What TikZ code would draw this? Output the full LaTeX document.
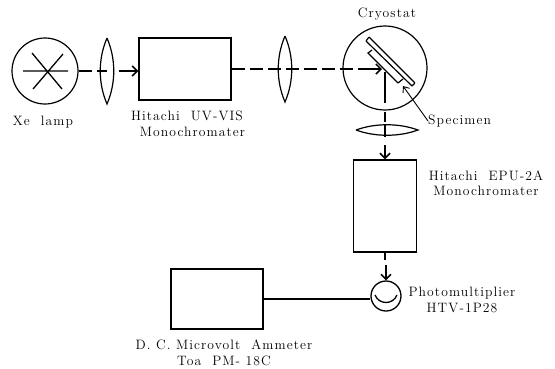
\documentclass[tikz,border=0pt]{standalone}
\usepackage{fontspec}
\setmainfont[LetterSpace=8]{Latin Modern Roman}
\usetikzlibrary{arrows.meta}
\tikzset{
  unitbox/.style={draw, line width=1.4pt, rectangle, inner sep=0pt},
  roundbox/.style={draw, line width=1.2pt, circle, inner sep=0pt},
  label/.style={inner sep=0pt, align=center, font=\fontsize{13.6}{15.5}\selectfont},
  beam/.style={line width=1.5pt, dash pattern=on 13pt off 5pt},
  ray/.style={line width=1.5pt, -{Straight Barb[length=5pt,width=10pt]}},
  lensv/.pic={\draw[line width=1.2pt] (0,-33) .. controls (-9,-12) and (-9,12) .. (0,33)
    .. controls (9,12) and (9,-12) .. (0,-33);},
  lensh/.pic={\draw[line width=1.2pt] (-31,0) .. controls (-12,-7) and (12,-7) .. (31,0)
    .. controls (12,7) and (-12,7) .. (-31,0);}
}
\begin{document}
\begin{tikzpicture}[x=1pt,y=-1pt]
  \useasboundingbox (0,0) rectangle (555,368);
  % sources and units
  \node[roundbox, minimum size=66pt] (lamp) at (45,71) {};
  \node[unitbox, minimum width=92pt, minimum height=62pt] (monoA) at (185,69) {};
  \node[roundbox, minimum size=84pt] (cryostat) at (385,68) {};
  \node[unitbox, minimum width=63pt, minimum height=92pt] (monoB) at (385,206) {};
  \node[roundbox, line width=1.3pt, minimum size=30pt] (tube) at (386,296) {};
  \node[unitbox, minimum width=92pt, minimum height=60pt] (ammeter) at (217,299) {};
  % lamp spokes
  \draw[line width=1.3pt] (23,71) -- (68,71) (32,53) -- (62,89) (33,89) -- (63,54);
  % lenses
  \coordinate (lensA) at (107,71);
  \coordinate (lensB) at (285,69);
  \coordinate (lensC) at (387,130);
  \pic at (lensA) {lensv};
  \pic at (lensB) {lensv};
  \pic at (lensC) {lensh};
  % specimen in the cryostat
  \draw[line width=1.2pt, rounded corners=0.5pt] (369,37) -- (366,41) -- (412,86) -- (415,83) -- cycle;
  \draw[line width=1.2pt] (372,50) -- (368,53) -- (398,83) (403,79) -- (398,83);
  % light path
  \coordinate (gapA) at (119,71);
  \coordinate (gapB) at (363,69);
  \coordinate (turn) at (385,72);
  \coordinate (gapC) at (385,145);
  \coordinate (gapD) at (386,265);
  \coordinate (dropD) at (385,260);
  \draw[beam] (lamp.east) -- (lensA);
  \draw[ray] (gapA) -- (monoA.west |- gapA);
  \draw[beam] (monoA.east |- lensB) -- (gapB);
  \draw[ray] (gapB) -- (382,69);
  \draw[line width=1.5pt, dash pattern=on 31pt off 9pt on 10pt off 3pt on 12pt off 8pt] (turn) -- (gapC);
  \draw[ray] (gapC) -- (monoB.north);
  \draw[line width=1.5pt] (monoB.south) -- (dropD);
  \draw[ray] (gapD) -- (tube.north);
  % tube
  \draw[line width=1.3pt] (375,295) .. controls (379,305) and (393,305) .. (397,295);
  \draw[line width=1.4pt] (ammeter.east) -- (tube.west |- ammeter.east);
  % labels
  \node[label] (lampText) at (43,122) {Xe\ \ lamp};
  \node[label] (monoAText) at (187,124) {Hitachi\ \ UV-VIS\\\ \ Monochromater};
  \node[label] (cryostatText) at (387,14) {Cryostat};
  \node[label, anchor=west] (specimenText) at (428,121) {Specimen};
  \node[label] (monoBText) at (486,183) {Hitachi\ \ EPU-2A\\Monochromater};
  \node[label] (tubeText) at (462,300) {Photomultiplier\\HTV-1P28};
  \node[label] (ammeterText) at (224,353) {D. C. Microvolt\ \ Ammeter\\Toa\ \ PM- 18C};
  \draw[line width=0.9pt, -{Straight Barb[length=5pt,width=8pt]}] (specimenText.west) -- (403,86);
\end{tikzpicture}
\end{document}
